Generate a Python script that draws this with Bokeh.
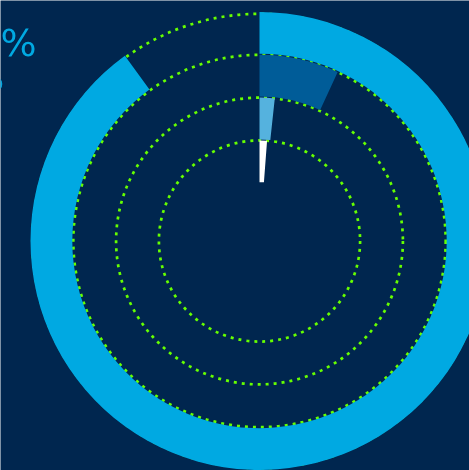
import math
from bokeh.plotting import figure
from bokeh.models import Range1d
from bokeh.embed import file_html
from bokeh.resources import INLINE
from bokeh.core.properties import value

# Data
series = ["Ring 1", "Ring 2", "Ring 3", "Ring 4"]
shares = [0.90, 0.069, 0.017, 0.012]
ring_colors = ["#00A9E2", "#005C98", "#55B2DE", "#FFFFFF"]
headline = "%"
subline = "o"

W, H = 469, 470
BG = "#00264F"
cx, cy = 259, 229.5
outer = 229.0
width = 42.8

p = figure(width=W, height=H, output_backend="svg", toolbar_location=None,
           x_range=Range1d(0, W), y_range=Range1d(0, H), min_border=0,
           background_fill_color=BG, border_fill_color=BG, outline_line_color=None)
p.axis.visible = False
p.grid.visible = False
p.styles = {"position": "fixed", "left": "0px", "top": "0px"}

# dotted track circles
dot_radii = [outer - 1.8] + [outer - i * width for i in range(1, 4)]
for r in dot_radii:
    p.circle(x=[cx], y=[cy], radius=r, fill_color=None, line_color="#66FF00",
             line_width=2.7, line_dash="3 5")

for i, (s, c) in enumerate(zip(shares, ring_colors)):
    r_out = outer - i * width
    r_in = r_out - width
    p.annular_wedge(x=[cx], y=[cy], inner_radius=r_in + 1.0, outer_radius=r_out,
                    start_angle=math.pi / 2, end_angle=math.pi / 2 - 2 * math.pi * s,
                    direction="clock", fill_color=c, line_color=None)

p.text(x=[36], y=[H - 42], text=[headline], text_align="right", text_baseline="alphabetic",
       text_font=value("DejaVu Sans"), text_font_size="38px", text_color="#00A9E2")
p.text(x=[3], y=[H - 82], text=[subline], text_align="right", text_baseline="alphabetic",
       text_font=value("DejaVu Sans"), text_font_size="22px", text_color="#00A9E2")

open("out.html", "w").write(file_html(p, INLINE))
